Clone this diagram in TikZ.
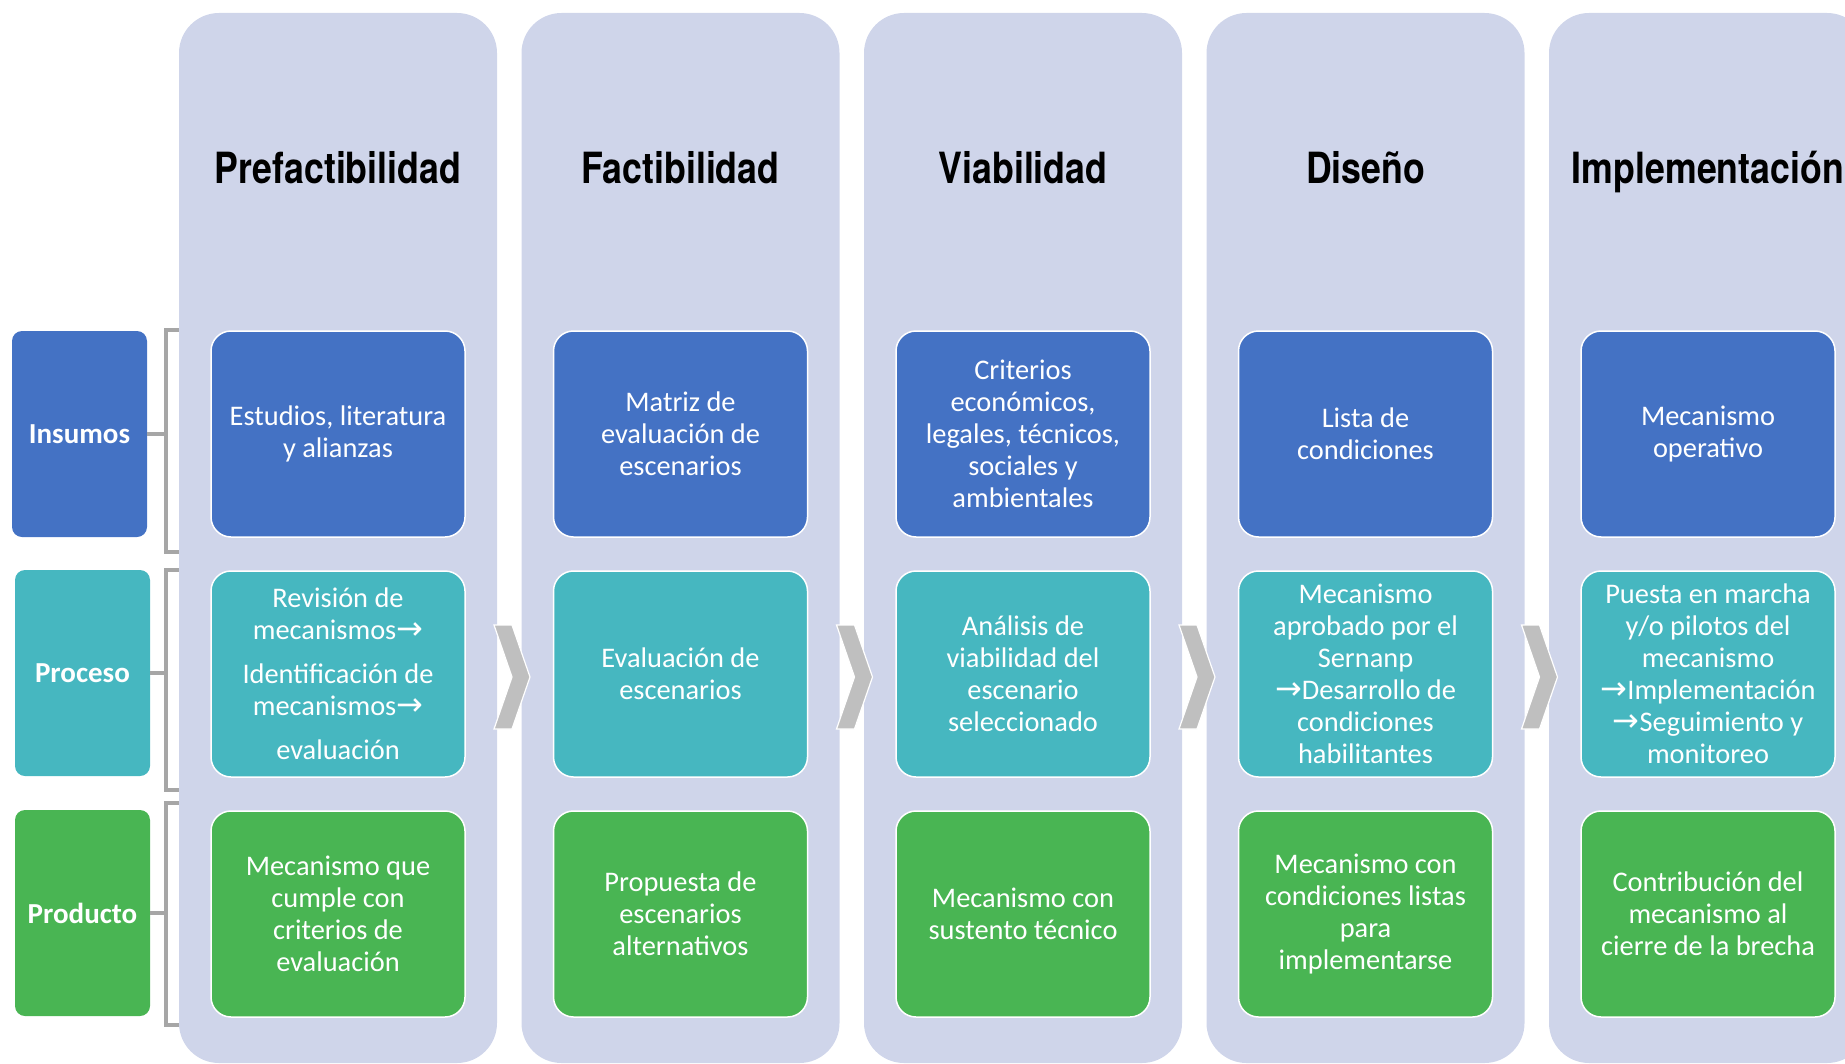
\documentclass[tikz,border=0pt]{standalone}
\usepackage{fontspec}
\setmainfont{Carlito}
\newfontfamily\titulofont[FakeStretch=0.83]{TeX Gyre Heros}
\newfontfamily\flechafont{DejaVu Sans}
\newcommand{\flecha}{{\flechafont\fontsize{16}{16}\selectfont\symbol{"2192}}}

\definecolor{fondo}{HTML}{CFD5EA}
\definecolor{azul}{HTML}{4472C4}
\definecolor{turquesa}{HTML}{46B7C0}
\definecolor{verde}{HTML}{49B553}
\definecolor{gris}{HTML}{A6A6A6}
\definecolor{grisclaro}{HTML}{BFBFBF}

\tikzset{
  columna/.style={fill=fondo, rounded corners=20pt, minimum width=159pt, minimum height=525pt, inner sep=0pt},
  caja/.style={draw=white, line width=0.75pt, rounded corners=10pt, minimum width=127pt, minimum height=103pt,
    inner sep=0pt, text=white, align=center, font=\fontsize{14.2}{16}\selectfont},
  insumo/.style={caja, fill=azul},
  proceso/.style={caja, fill=turquesa},
  producto/.style={caja, fill=verde},
  etiqueta/.style={rounded corners=5pt, minimum width=67.5pt, minimum height=103pt, inner sep=0pt,
    text=white, font=\fontsize{14.5}{16}\selectfont\bfseries},
  titulo/.style={anchor=base, font=\titulofont\bfseries\fontsize{21.5}{24}\selectfont},
  corchete/.style={draw=gris, line width=2pt},
  chevron/.style={fill=grisclaro, draw=white, line width=0.6pt},
}

\begin{document}
\begin{tikzpicture}[x=0.5pt,y=-0.5pt]
  \useasboundingbox (0,0) rectangle (1845,1064);
  \clip (0,0) rectangle (1845,1064);

  % row labels
  \node[etiqueta, fill=azul] (insumos) at (79.5,434) {Insumos};
  \node[etiqueta, fill=turquesa] (proceso) at (82.5,673) {Proceso};
  \node[etiqueta, fill=verde] (producto) at (82.5,913) {Producto};

  \draw[corchete] (184,330) -- (166,330) -- (166,552) -- (184,552);
  \draw[corchete] (184,570) -- (166,570) -- (166,790) -- (184,790);
  \draw[corchete] (184,803) -- (166,803) -- (166,1025) -- (184,1025);
  \draw[corchete] (insumos.east) -- (insumos.east -| 166,0);
  \draw[corchete] (proceso.east) -- (proceso.east -| 166,0);
  \draw[corchete] (producto.east) -- (producto.east -| 166,0);

  % stages
  \node[columna] (col1) at (338,538) {};
  \node[columna] (col2) at (680.5,538) {};
  \node[columna] (col3) at (1023,538) {};
  \node[columna] (col4) at (1365.5,538) {};
  \node[columna] (col5) at (1708,538) {};

  \node[titulo] (tit1) at (338,184) {Prefactibilidad};
  \node[titulo] (tit2) at (680.5,184) {Factibilidad};
  \node[titulo] (tit3) at (1023,184) {Viabilidad};
  \node[titulo] (tit4) at (1365.5,184) {Diseño};
  \node[titulo] (tit5) at (1708,184) {Implementación};

  \foreach \cx in {512,854.5,1197,1539.5}
    \draw[chevron] ({\cx-18},625) -- (\cx,625) -- ({\cx+18},677) -- (\cx,729) -- ({\cx-18},729) -- (\cx,677) -- cycle;

  \node[insumo] (ins1) at (338,434) {Estudios, literatura\\y alianzas};
  \node[insumo] (ins2) at (680.5,434) {Matriz de\\evaluación de\\escenarios};
  \node[insumo] (ins3) at (1023,434) {Criterios\\económicos,\\legales, técnicos,\\sociales y\\ambientales};
  \node[insumo] (ins4) at (1365.5,434) {Lista de\\condiciones};
  \node[insumo] (ins5) at (1708,434) {Mecanismo\\operativo};

  \node[proceso] (pro1) at (338,674) {Revisión de\\mecanismos\flecha\\[6pt]Identificación de\\mecanismos\flecha\\[6pt]evaluación};
  \node[proceso] (pro2) at (680.5,674) {Evaluación de\\escenarios};
  \node[proceso] (pro3) at (1023,674) {Análisis de\\viabilidad del\\escenario\\seleccionado};
  \node[proceso] (pro4) at (1365.5,674) {Mecanismo\\aprobado por el\\Sernanp\\\flecha Desarrollo de\\condiciones\\habilitantes};
  \node[proceso] (pro5) at (1708,674) {Puesta en marcha\\y/o pilotos del\\mecanismo\\\flecha Implementación\\\flecha Seguimiento y\\monitoreo};

  \node[producto] (prd1) at (338,914) {Mecanismo que\\cumple con\\criterios de\\evaluación};
  \node[producto] (prd2) at (680.5,914) {Propuesta de\\escenarios\\alternativos};
  \node[producto] (prd3) at (1023,914) {Mecanismo con\\sustento técnico};
  \node[producto] (prd4) at (1365.5,914) {Mecanismo con\\condiciones listas\\para\\implementarse};
  \node[producto] (prd5) at (1708,914) {Contribución del\\mecanismo al\\cierre de la brecha};
\end{tikzpicture}
\end{document}
